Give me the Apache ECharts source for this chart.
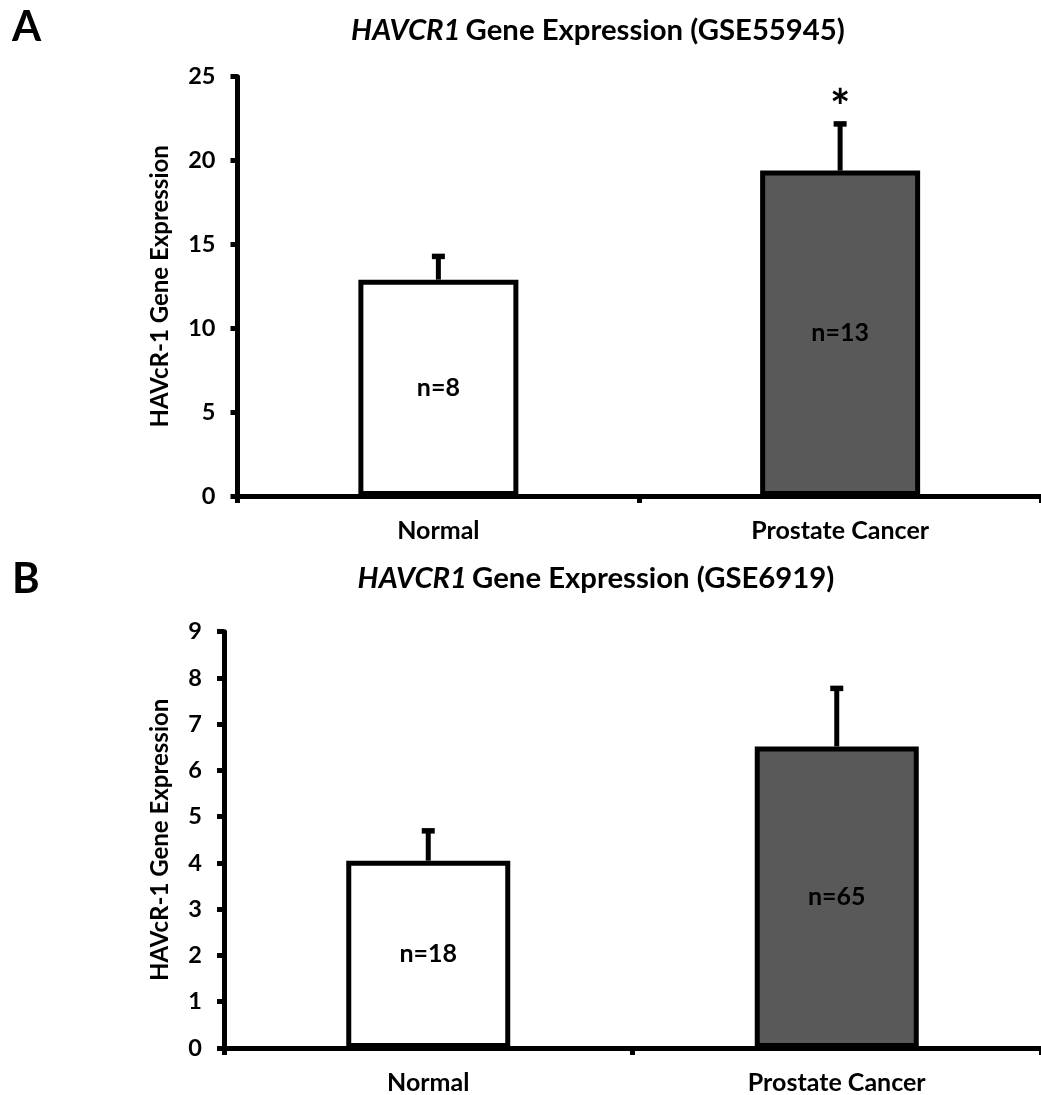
<!DOCTYPE html>
<html>
<head>
<meta charset="utf-8">
<script src="https://cdn.jsdelivr.net/npm/echarts@6/dist/echarts.min.js"></script>
<style>html,body{margin:0;padding:0;background:#fff;}#c{width:1041px;height:1095px;}</style>
</head>
<body>
<div id="c"></div>
<script>
// ---- data ----
const categories = ['Normal', 'Prostate Cancer'];
const meansA = [12.9, 19.4];
const errsA = [1.4, 2.8];
const nA = ['n=8', 'n=13'];
const sigA = ['', '*'];
const meansB = [4.05, 6.52];
const errsB = [0.65, 1.26];
const nB = ['n=18', 'n=65'];
const sigB = ['', ''];
const yTicksA = { min: 0, max: 25, interval: 5 };
const yTicksB = { min: 0, max: 9, interval: 1 };

const FONT = 'Lato';
const barColors = ['#ffffff', '#595959'];

function barData(means, ns) {
  return means.map((v, i) => ({
    value: v,
    itemStyle: { color: barColors[i] },
    label: { formatter: ns[i] }
  }));
}
function errData(means, errs, sig) {
  return means.map((v, i) => [i, v, errs[i], sig[i]]);
}
function errRender(params, api) {
  const c = api.value(0), m = api.value(1), e = api.value(2);
  const star = api.value(3);
  const p0 = api.coord([c, m]);
  const p1 = api.coord([c, m + e]);
  const children = [
    { type: 'line', shape: { x1: p0[0], y1: p0[1], x2: p1[0], y2: p1[1] + 2 }, style: { stroke: '#000', lineWidth: 5 } },
    { type: 'rect', shape: { x: p1[0] - 6.5, y: p1[1] - 2.5, width: 13, height: 5.5 }, style: { fill: '#000' } }
  ];
  if (star) {
    children.push({
      type: 'text', x: p1[0], y: p1[1] - 15,
      style: { text: star, textAlign: 'center', textVerticalAlign: 'middle', fill: '#000', font: 'bold 48px Lato' }
    });
  }
  return { type: 'group', children };
}

function axisCommon() {
  return {
    axisLine: { show: true, lineStyle: { color: '#000', width: 5 } },
    axisTick: { show: true, lineStyle: { color: '#000', width: 5 }, length: 7 },
    splitLine: { show: false }
  };
}

const titleRich = (rest) => ({
  text: '{i|HAVCR1} {r|' + rest + '}',
  textStyle: {
    rich: {
      i: { fontFamily: FONT, fontStyle: 'italic', fontSize: 29.3, color: '#000' },
      r: { fontFamily: FONT, fontSize: 29.3, color: '#000' }
    }
  }
});

const option = {
  backgroundColor: '#fff',
  animation: false,
  title: [
    { text: 'A', left: 7, top: 1, textStyle: { fontFamily: FONT, fontWeight: 'bold', fontSize: 42, color: '#000' } },
    Object.assign({ left: 593, top: 11, textAlign: 'center' }, titleRich('Gene Expression (GSE55945)')),
    { text: 'B', left: 7, top: 553, textStyle: { fontFamily: FONT, fontWeight: 'bold', fontSize: 42, color: '#000' } },
    Object.assign({ left: 591, top: 559, textAlign: 'center' }, titleRich('Gene Expression (GSE6919)'))
  ],
  grid: [
    { left: 237.5, top: 76.7, width: 807, height: 419.3 },
    { left: 224, top: 631.7, width: 821, height: 418.3 }
  ],
  xAxis: [0, 1].map(g => Object.assign(axisCommon(), {
    type: 'category', gridIndex: g, data: categories,
    axisLabel: { color: '#000', fontFamily: FONT, fontWeight: 'bold', fontSize: 25, margin: 22 }
  })),
  yAxis: [yTicksA, yTicksB].map((t, g) => Object.assign(axisCommon(), {
    type: 'value', gridIndex: g, min: t.min, max: t.max, interval: t.interval,
    name: 'HAVcR-1 Gene Expression', nameLocation: 'middle', nameGap: g === 0 ? 65 : 52,
    nameTextStyle: { color: '#000', fontFamily: FONT, fontWeight: 'bold', fontSize: 24 },
    axisLabel: { color: '#000', fontFamily: FONT, fontWeight: 'bold', fontSize: 23.5, margin: 22 }
  })),
  series: [
    {
      type: 'bar', xAxisIndex: 0, yAxisIndex: 0, barWidth: 160,
      data: barData(meansA, nA),
      itemStyle: { borderColor: '#000', borderWidth: 5 },
      label: { show: true, position: 'inside', color: '#000', fontFamily: FONT, fontWeight: 'bold', fontSize: 25 }
    },
    {
      type: 'custom', xAxisIndex: 0, yAxisIndex: 0, z: 3,
      data: errData(meansA, errsA, sigA),
      encode: { x: 0, y: 1 },
      renderItem: errRender
    },
    {
      type: 'bar', xAxisIndex: 1, yAxisIndex: 1, barWidth: 164,
      data: barData(meansB, nB),
      itemStyle: { borderColor: '#000', borderWidth: 5 },
      label: { show: true, position: 'inside', color: '#000', fontFamily: FONT, fontWeight: 'bold', fontSize: 25 }
    },
    {
      type: 'custom', xAxisIndex: 1, yAxisIndex: 1, z: 3,
      data: errData(meansB, errsB, sigB),
      encode: { x: 0, y: 1 },
      renderItem: errRender
    }
  ]
};

const chart = echarts.init(document.getElementById('c'), null, { renderer: 'canvas' });
chart.setOption(option);
</script>
</body>
</html>
